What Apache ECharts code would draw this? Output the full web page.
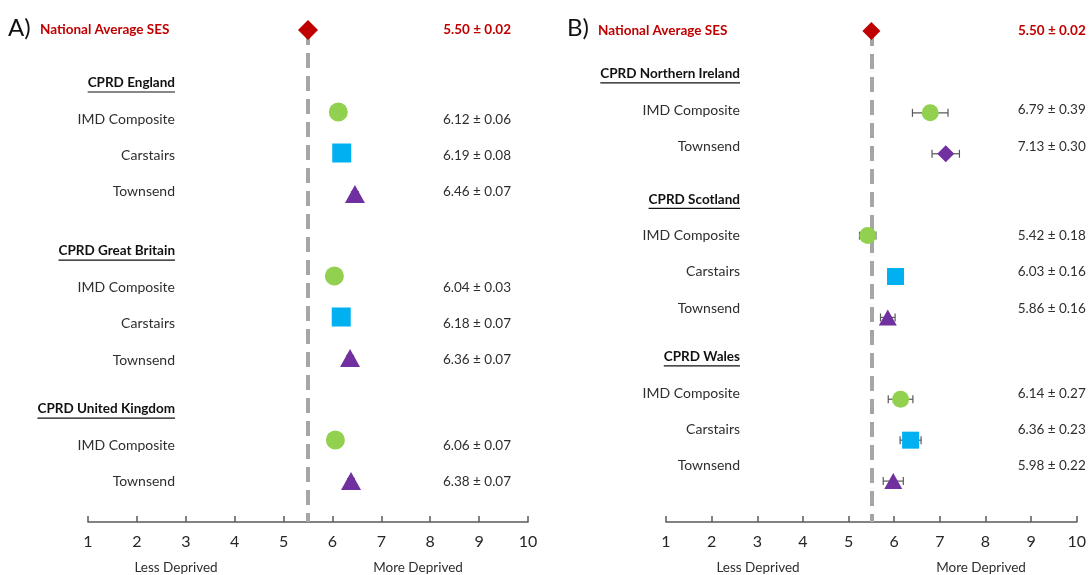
<!DOCTYPE html>
<html><head><meta charset="utf-8">
<script src="https://cdn.jsdelivr.net/npm/echarts@6/dist/echarts.min.js"></script>
<style>html,body{margin:0;padding:0;background:#fff}#c{width:1089px;height:575px}</style>
</head><body><div id="c"></div>
<script>
// ---------- data ----------
const nationalLabel = 'National Average SES';
const nationalMean = 5.50;
const nationalErr = 0.02;
const xMin = 1, xMax = 10, xInterval = 1;
const axisLeftText = 'Less Deprived';
const axisRightText = 'More Deprived';
const panelLetters = ['A)', 'B)'];

const leftGroups = ['CPRD England', 'CPRD Great Britain', 'CPRD United Kingdom'];
const leftMeasures = [['IMD Composite', 'Carstairs', 'Townsend'], ['IMD Composite', 'Carstairs', 'Townsend'], ['IMD Composite', 'Townsend']];
const leftMeans = [[6.12, 6.19, 6.46], [6.04, 6.18, 6.36], [6.06, 6.38]];
const leftErrs = [[0.06, 0.08, 0.07], [0.03, 0.07, 0.07], [0.07, 0.07]];
const leftSymbols = [['circle', 'rect', 'triangle'], ['circle', 'rect', 'triangle'], ['circle', 'triangle']];

const rightGroups = ['CPRD Northern Ireland', 'CPRD Scotland', 'CPRD Wales'];
const rightMeasures = [['IMD Composite', 'Townsend'], ['IMD Composite', 'Carstairs', 'Townsend'], ['IMD Composite', 'Carstairs', 'Townsend']];
const rightMeans = [[6.79, 7.13], [5.42, 6.03, 5.86], [6.14, 6.36, 5.98]];
const rightErrs = [[0.39, 0.30], [0.18, 0.16, 0.16], [0.27, 0.23, 0.22]];
const rightSymbols = [['circle', 'diamond'], ['circle', 'rect', 'triangle'], ['circle', 'rect', 'triangle']];

// ---------- styles / layout ----------
const FONT = 'Lato, "Open Sans", sans-serif';
const measureColor = {'IMD Composite': '#92D050', 'Carstairs': '#00B0F0', 'Townsend': '#7030A0'};
const RED = '#C00000';
const TXT = '#2e2e2e';

const panels = [
  {groups: leftGroups, measures: leftMeasures, means: leftMeans, errs: leftErrs, symbols: leftSymbols,
   grid: {left: 88, right: 1089 - 528, top: 30, bottom: 575 - 522},
   textGaps: [1.46, 1.63, 1.35], textTail: 1.11, labelRight: 87, natLeft: -48, valueRight: -17, symSize: 19,
   capH: 3, letterX: 8, subX: [176, 418]},
  {groups: rightGroups, measures: rightMeasures, means: rightMeans, errs: rightErrs, symbols: rightSymbols,
   grid: {left: 666, right: 1089 - 1078, top: 31, bottom: 575 - 522},
   textGaps: [1.18, 1.46, 1.34], textTail: 1.55, labelRight: 74, natLeft: -68, valueRight: 9, symSize: 17,
   capH: 4, letterX: 567, subX: [758, 981]}
];

const measureCanvas = document.createElement('canvas').getContext('2d');
function textWidth(t, font) { measureCanvas.font = font; return measureCanvas.measureText(t).width; }
function fmt(m, e) { return m.toFixed(2) + ' \u00b1 ' + e.toFixed(2); }

const chart = echarts.init(document.getElementById('c'), null, {renderer: 'canvas'});
const grids = [], xAxes = [], yAxes = [], series = [], graphics = [];

panels.forEach((p, pi) => {
  grids.push(p.grid);
  xAxes.push({
    type: 'value', gridIndex: pi, min: xMin, max: xMax, interval: xInterval,
    axisLine: {show: true, onZero: false, lineStyle: {color: '#595959', width: 1.5}},
    axisTick: {show: true, inside: true, length: 6, lineStyle: {color: '#595959', width: 1.5}},
    axisLabel: {fontSize: 16, color: '#262626', fontFamily: FONT, margin: 12},
    splitLine: {show: false}
  });
  const markerPts = [];
  let slot = 0;
  const textRows = [{kind: 'national', label: nationalLabel, value: fmt(nationalMean, nationalErr), row: 0}];
  let row = 0;
  p.groups.forEach((g, gi) => {
    row += p.textGaps[gi];
    textRows.push({kind: 'header', label: g, row: row});
    p.measures[gi].forEach((m, mi) => {
      row += 1;
      textRows.push({kind: 'item', label: m, value: fmt(p.means[gi][mi], p.errs[gi][mi]), row: row});
      const sym = p.symbols[gi][mi];
      markerPts.push({value: [p.means[gi][mi], slot, p.errs[gi][mi]], symbol: sym,
        symbolSize: sym === 'triangle' ? [p.symSize + 1, p.symSize - 1] : p.symSize,
        itemStyle: {color: measureColor[m], opacity: 1}});
      slot += 1;
    });
    slot += 1;
  });
  const lastSlot = slot - 2;
  yAxes.push({type: 'value', gridIndex: pi, min: -2, max: lastSlot + 1, inverse: true, show: false});
  yAxes.push({type: 'value', gridIndex: pi, min: 0, max: row + p.textTail, inverse: true, show: false});
  const yMarker = pi * 2, yText = pi * 2 + 1;

  // error bars
  series.push({
    type: 'custom', xAxisIndex: pi, yAxisIndex: yMarker, z: 3, silent: true, clip: false,
    data: markerPts.map(d => d.value).concat([[nationalMean, -2, nationalErr]]),
    renderItem: (params, api) => {
      const m = api.value(0), s = api.value(1), e = api.value(2);
      const a = api.coord([m - e, s]), b = api.coord([m + e, s]);
      const st = {stroke: '#595959', lineWidth: 1.2};
      const h = p.capH;
      return {type: 'group', children: [
        {type: 'line', shape: {x1: a[0], y1: a[1], x2: b[0], y2: b[1]}, style: st},
        {type: 'line', shape: {x1: a[0], y1: a[1] - h, x2: a[0], y2: a[1] + h}, style: st},
        {type: 'line', shape: {x1: b[0], y1: b[1] - h, x2: b[0], y2: b[1] + h}, style: st}
      ]};
    }
  });
  // national marker + dashed reference line
  series.push({
    type: 'scatter', xAxisIndex: pi, yAxisIndex: yMarker, z: 5, silent: true,
    symbol: 'diamond', symbolSize: [p.symSize + 1, p.symSize + 1], itemStyle: {color: RED, opacity: 1},
    data: [[nationalMean, -2]],
    markLine: {
      silent: true, symbol: ['none', 'none'], label: {show: false}, z: 2,
      lineStyle: {color: '#A6A6A6', width: 4, type: [15, 8]},
      emphasis: {disabled: true},
      data: [{xAxis: nationalMean}]
    }
  });
  // measure markers
  series.push({
    type: 'scatter', xAxisIndex: pi, yAxisIndex: yMarker, z: 6, silent: true,
    symbolSize: p.symSize, itemStyle: {opacity: 1}, data: markerPts
  });
  // texts
  series.push({
    type: 'custom', xAxisIndex: pi, yAxisIndex: yText, z: 7, silent: true, clip: false,
    data: textRows.map(r => [xMin, r.row]),
    renderItem: (params, api) => {
      const r = textRows[params.dataIndex];
      const cs = params.coordSys;
      const y = api.coord([xMin, api.value(1)])[1];
      const ch = [];
      if (r.kind === 'national') {
        const f = 'bold 13.5px ' + FONT;
        ch.push({type: 'text', x: cs.x + p.natLeft, y: y, style: {text: r.label, font: f, fill: RED, align: 'left', verticalAlign: 'middle'}});
        ch.push({type: 'text', x: cs.x + cs.width + p.valueRight, y: y, style: {text: r.value, font: f, fill: RED, align: 'right', verticalAlign: 'middle'}});
      } else if (r.kind === 'header') {
        const f = 'bold 13.5px ' + FONT;
        const w = textWidth(r.label, f);
        const xr = cs.x + p.labelRight;
        ch.push({type: 'text', x: xr, y: y, style: {text: r.label, font: f, fill: '#111', align: 'right', verticalAlign: 'middle'}});
        ch.push({type: 'line', shape: {x1: xr - w, y1: y + 9, x2: xr, y2: y + 9}, style: {stroke: '#111', lineWidth: 1.2}});
      } else {
        const f = '14px ' + FONT;
        ch.push({type: 'text', x: cs.x + p.labelRight, y: y, style: {text: r.label, font: f, fill: TXT, align: 'right', verticalAlign: 'middle'}});
        ch.push({type: 'text', x: cs.x + cs.width + p.valueRight, y: y, style: {text: r.value, font: '13.5px ' + FONT, fill: TXT, align: 'right', verticalAlign: 'middle'}});
      }
      return {type: 'group', children: ch};
    }
  });
  graphics.push({type: 'text', left: p.letterX, top: 16, style: {text: panelLetters[pi], font: '24px ' + FONT, fill: '#111'}});
  graphics.push({type: 'text', x: p.subX[0], y: 568, style: {text: axisLeftText, font: '13.5px ' + FONT, fill: TXT, align: 'center', verticalAlign: 'middle'}});
  graphics.push({type: 'text', x: p.subX[1], y: 568, style: {text: axisRightText, font: '13.5px ' + FONT, fill: TXT, align: 'center', verticalAlign: 'middle'}});
});

chart.setOption({
  animation: false,
  backgroundColor: '#fff',
  grid: grids, xAxis: xAxes, yAxis: yAxes, series: series, graphic: graphics
});
</script>
</body></html>
